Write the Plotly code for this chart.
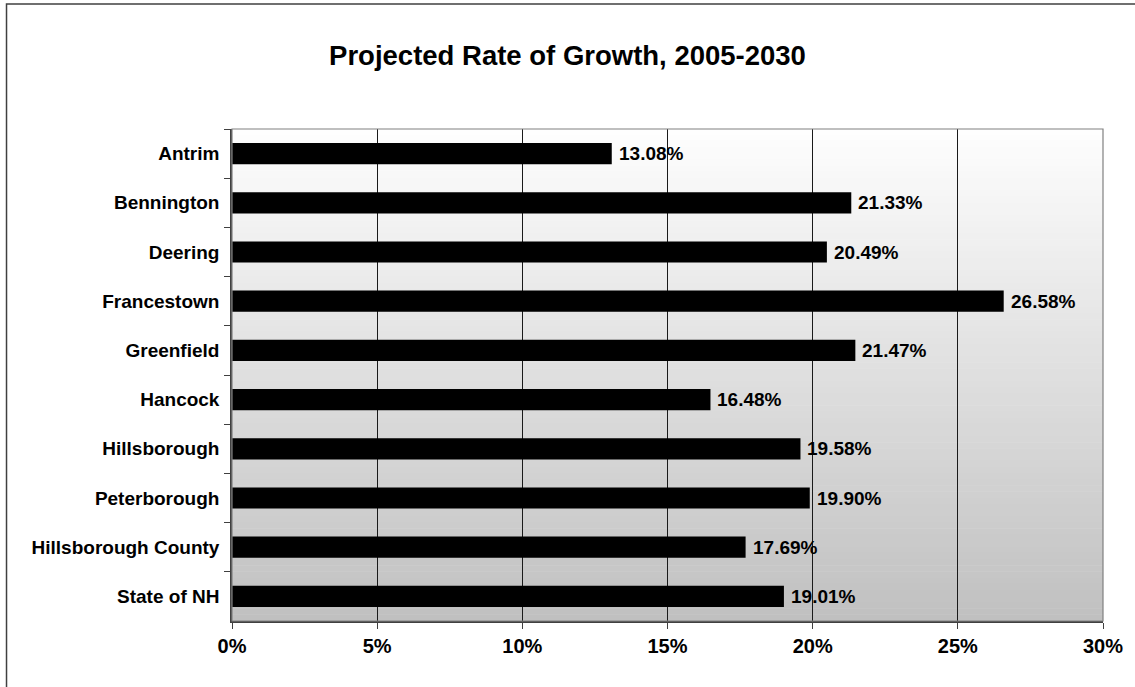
import plotly.graph_objects as go

categories = ["Antrim", "Bennington", "Deering", "Francestown", "Greenfield",
              "Hancock", "Hillsborough", "Peterborough", "Hillsborough County",
              "State of NH"]
growth_pct = [13.08, 21.33, 20.49, 26.58, 21.47, 16.48, 19.58, 19.90, 17.69, 19.01]
x_ticks = [0, 5, 10, 15, 20, 25, 30]
x_tick_labels = ["0%", "5%", "10%", "15%", "20%", "25%", "30%"]
title_text = "Projected Rate of Growth, 2005-2030"

W, H = 1135, 687
ML, MR, MT, MB = 232, 30, 129, 66
FONT = "Liberation Sans, Arial, sans-serif"

fig = go.Figure()
fig.add_trace(go.Bar(
    x=growth_pct, y=categories, orientation="h",
    marker=dict(color="#000000", line=dict(width=0)),
    hoverinfo="skip",
))

# value labels to the right of each bar
annotations = [
    dict(x=v, y=c, xref="x", yref="y", text=f"{v:.2f}%", showarrow=False,
         xanchor="left", yanchor="middle", xshift=5,
         font=dict(family=FONT, size=19, color="#000000", weight="bold"))
    for c, v in zip(categories, growth_pct)
]

# gradient background of plot area (white at top -> gray at bottom)
shapes = []
n = 80
top = (254, 254, 254)
bot = (192, 192, 192)
for i in range(n):
    t = (i + 0.5) / n
    c = tuple(int(round(top[k] + (bot[k] - top[k]) * t)) for k in range(3))
    shapes.append(dict(type="rect", xref="x domain", yref="y domain",
                       x0=0, x1=1, y0=1 - (i + 1) / n, y1=1 - i / n + 0.001,
                       fillcolor=f"rgb({c[0]},{c[1]},{c[2]})",
                       line=dict(width=0), layer="below"))
# plot area border (top & right)
shapes.append(dict(type="rect", xref="x domain", yref="y domain", x0=0, x1=1, y0=0, y1=1,
                   line=dict(color="#808080", width=1.2), fillcolor="rgba(0,0,0,0)", layer="above"))
# outer chart border (left and top visible)
pw = W - ML - MR
ph = H - MT - MB
shapes.append(dict(type="rect", xref="paper", yref="paper",
                   x0=(6 - ML) / pw, x1=(W + 10 - ML) / pw,
                   y0=-(H + 10 - MT - ph) / ph, y1=(H - 4 - MB) / ph,
                   line=dict(color="#404040", width=1.5), fillcolor="rgba(0,0,0,0)", layer="below"))

fig.update_layout(
    width=W, height=H,
    margin=dict(l=ML, r=MR, t=MT, b=MB),
    paper_bgcolor="#ffffff", plot_bgcolor="rgba(0,0,0,0)",
    showlegend=False,
    bargap=0.57,
    shapes=shapes,
    annotations=annotations,
    title=dict(text=title_text, x=0.5, xanchor="center", xref="container",
               y=(H - 55) / H, yanchor="middle", yref="container",
               font=dict(family=FONT, size=27.5, color="#000000", weight="bold")),
    xaxis=dict(range=[0, 30], tickvals=x_ticks, ticktext=x_tick_labels,
               showgrid=True, gridcolor="#1a1a1a", gridwidth=1,
               zeroline=False, showline=True, linecolor="#404040", linewidth=1.5,
               ticks="outside", ticklen=6, tickcolor="#404040",
               tickfont=dict(family=FONT, size=20, color="#000000", weight="bold"),
               fixedrange=True),
    yaxis=dict(autorange="reversed", type="category",
               showgrid=False, zeroline=False, showline=True,
               linecolor="#404040", linewidth=1.5,
               ticks="outside", ticklen=6, tickcolor="#404040", tickson="boundaries",
               ticklabelstandoff=7,
               tickfont=dict(family=FONT, size=19, color="#000000", weight="bold"),
               fixedrange=True),
)

fig.write_html("out.html")
